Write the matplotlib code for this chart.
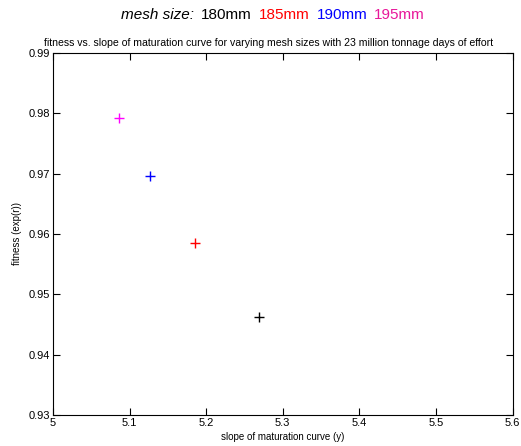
import matplotlib
matplotlib.use("Agg")
import matplotlib.pyplot as plt

# data
mesh_labels = ["180mm", "185mm", "190mm", "195mm"]
slope = [5.269, 5.186, 5.127, 5.086]
fitness = [0.9463, 0.9585, 0.9696, 0.9792]
marker_colors = ["black", "red", "blue", "magenta"]
label_colors = ["black", "red", "blue", "#e8189a"]

x_ticks = [5, 5.1, 5.2, 5.3, 5.4, 5.5, 5.6]
y_ticks = [0.93, 0.94, 0.95, 0.96, 0.97, 0.98, 0.99]

plt.rcParams["font.family"] = ["Liberation Sans", "DejaVu Sans"]

fig = plt.figure(figsize=(5.21, 4.46), dpi=100)
ax = fig.add_axes([0.1017, 0.0695, 0.882, 0.812])

for x, y, c in zip(slope, fitness, marker_colors):
    ax.plot(x, y, marker="+", color=c, markersize=7, markeredgewidth=1.0, linestyle="none")

ax.set_xlim(5, 5.6)
ax.set_ylim(0.93, 0.99)
ax.set_xticks(x_ticks)
ax.set_xticklabels([f"{v:g}" for v in x_ticks])
ax.set_yticks(y_ticks)
ax.set_yticklabels([f"{v:.2f}" for v in y_ticks])
ax.tick_params(direction="in", top=True, right=True, labelsize=8, length=5, width=0.8, pad=2)
for s in ax.spines.values():
    s.set_linewidth(0.8)

ax.set_xlabel("slope of maturation curve (y)", fontsize=7, labelpad=3)
ax.set_ylabel("fitness (exp(r))", fontsize=7, labelpad=5)
ax.set_title("fitness vs. slope of maturation curve for varying mesh sizes with 23 million tonnage days of effort",
             fontsize=7.6, pad=5, x=0.47)

# coloured header line
fig.canvas.draw()
renderer = fig.canvas.get_renderer()
pieces = [("mesh size:", "black", "italic")] + [(m, c, "normal") for m, c in zip(mesh_labels, label_colors)]
texts = []
for t, c, st in pieces:
    texts.append(fig.text(0, 0.966, t, color=c, style=st, fontsize=11, ha="left", va="center"))
gap = 7 / fig.bbox.width
widths = [tx.get_window_extent(renderer).width / fig.bbox.width for tx in texts]
total = sum(widths) + gap * (len(widths) - 1)
x0 = 0.524 - total / 2
for tx, w in zip(texts, widths):
    tx.set_x(x0)
    x0 += w + gap

fig.savefig("out.png", dpi=100)
